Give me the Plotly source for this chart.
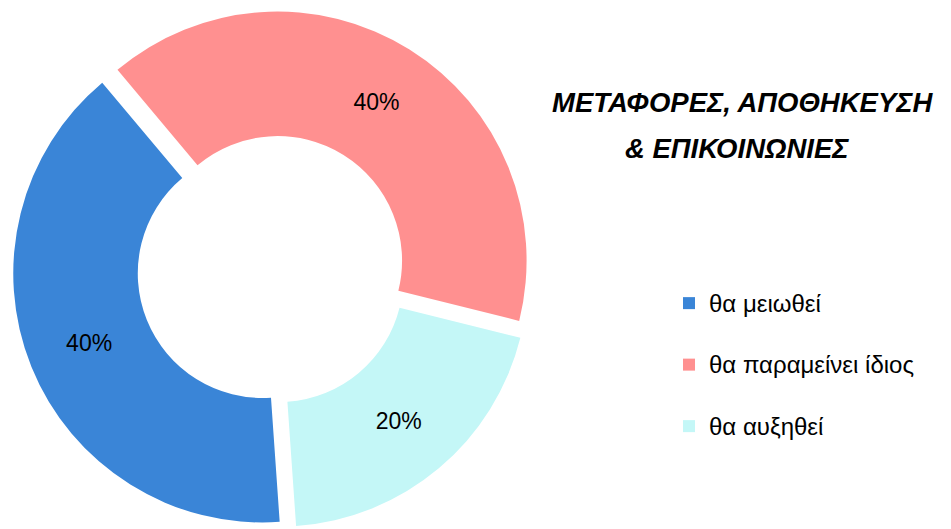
import plotly.graph_objects as go

# Survey answers and their shares (%)
labels = ["θα μειωθεί", "θα παραμείνει ίδιος", "θα αυξηθεί"]
values = [40, 40, 20]
colors = ["#3a85d7", "#ff9090", "#c4f7f7"]

title_lines = ["ΜΕΤΑΦΟΡΕΣ, ΑΠΟΘΗΚΕΥΣΗ", "& ΕΠΙΚΟΙΝΩΝΙΕΣ"]

FONT = "Liberation Sans, Arial, sans-serif"
W, H, TOP = 951, 529, 10

# legend entries: a blank second line widens the row spacing
legend_labels = [f'<span style="font-size:24px">{t}</span><br> ' for t in labels]

fig = go.Figure(
    go.Pie(
        labels=legend_labels,
        values=values,
        sort=False,
        direction="clockwise",
        rotation=176,
        hole=0.5,
        pull=[0.042, 0.042, 0.042],
        marker=dict(colors=colors, line=dict(width=0)),
        textinfo="percent",
        texttemplate="%{percent:.0%}",
        textposition="inside",
        insidetextorientation="horizontal",
        textfont=dict(family=FONT, size=23, color="#000000"),
        hoverinfo="skip",
        domain=dict(x=[12 / W, 532 / W], y=[0, 1]),
    )
)

def py(y_px):
    return 1 - (y_px - TOP) / (H - TOP)

annotations = [
    dict(text=f"<b><i>{line}</i></b>", x=x / W, y=py(y), xref="paper", yref="paper",
         xanchor="center", yanchor="middle", showarrow=False,
         font=dict(family=FONT, size=27.5, color="#000000"))
    for line, x, y in zip(title_lines, [742, 737], [103, 148])
]

fig.update_layout(
    width=W,
    height=H,
    margin=dict(l=0, r=0, t=TOP, b=0),
    paper_bgcolor="#ffffff",
    plot_bgcolor="#ffffff",
    annotations=annotations,
    showlegend=True,
    legend=dict(
        x=669 / W, xanchor="left",
        y=py(282), yanchor="top",
        valign="top",
        font=dict(family=FONT, size=22.5, color="#000000"),
        bgcolor="rgba(0,0,0,0)",
        itemclick=False,
    ),
)

fig.write_html("out.html")
